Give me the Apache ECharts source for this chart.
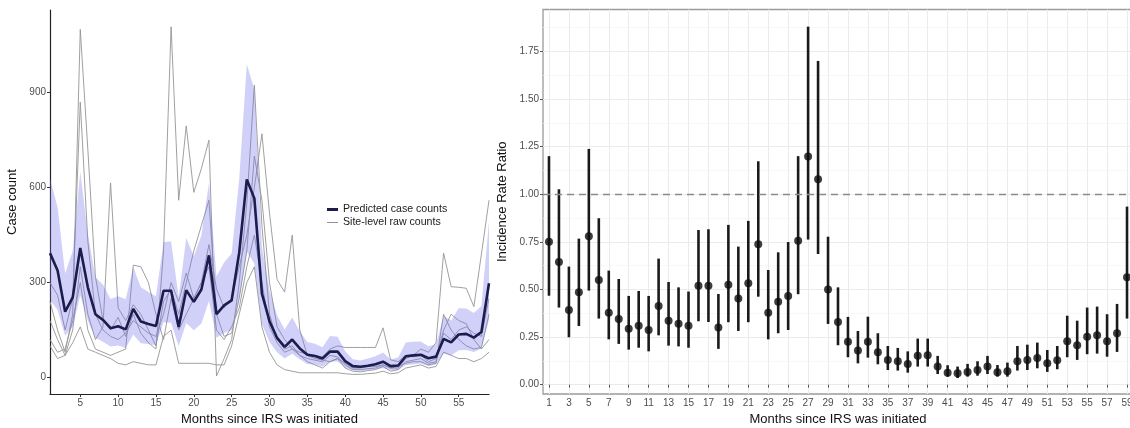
<!DOCTYPE html>
<html><head><meta charset="utf-8">
<script src="https://cdn.jsdelivr.net/npm/echarts@6/dist/echarts.min.js"></script>
<style>html,body{margin:0;padding:0;background:#fff}#c{width:1130px;height:428px}</style>
</head><body><div id="c"></div>
<script>
const months = [1,2,3,4,5,6,7,8,9,10,11,12,13,14,15,16,17,18,19,20,21,22,23,24,25,26,27,28,29,30,31,32,33,34,35,36,37,38,39,40,41,42,43,44,45,46,47,48,49,50,51,52,53,54,55,56,57,58,59];
const predicted = [393,338,208,253,409,285,200,182,156,162,152,217,177,169,163,274,274,160,276,239,278,386,200,228,244,395,626,566,265,178,125,97,120,92,72,68,60,82,82,52,36,34,37,42,50,36,38,67,70,72,61,66,122,111,136,138,126,144,298];
const ribbonLower = [245,213,132,161,259,180,126,113,98,101,93,136,108,106,102,175,173,100,172,149,171,242,126,141,150,248,398,360,169,112,80,60,75,58,43,41,35,51,51,31,24,20,23,26,29,23,23,40,41,44,36,42,77,70,86,87,81,92,183];
const ribbonUpper = [629,538,329,400,650,453,317,293,248,257,247,348,285,270,257,428,430,254,441,383,449,614,319,363,392,627,990,910,412,276,197,152,190,146,112,107,96,131,129,83,58,54,60,67,79,57,63,111,113,114,99,105,194,180,219,218,204,226,494];
const site1 = [240,150,80,200,1100,720,320,180,150,190,130,200,140,110,90,400,1108,560,795,585,660,750,5,60,120,300,550,924,480,200,120,90,100,70,50,40,30,50,60,30,20,18,22,25,35,20,25,50,55,60,45,50,140,120,150,160,140,130,250];
const site2 = [300,260,150,250,870,430,200,150,130,120,140,180,160,140,130,200,300,240,330,250,300,420,280,220,250,350,450,600,770,520,310,270,450,150,70,60,55,50,60,45,30,30,35,35,40,30,35,45,50,50,40,45,200,150,120,100,90,95,200];
const site3 = [180,120,70,150,350,200,120,160,615,220,180,230,200,150,100,240,280,200,300,400,480,560,200,130,140,250,400,700,560,300,160,120,90,70,60,55,50,70,65,40,25,25,28,30,40,30,30,60,70,90,80,110,393,287,285,282,224,390,560];
const site4 = [120,80,90,180,300,150,90,80,70,80,90,355,350,300,200,120,250,150,200,250,300,350,150,120,160,220,350,450,300,160,110,80,90,80,75,70,65,90,100,95,95,95,95,95,157,56,50,70,65,70,50,60,150,200,180,170,120,90,120];
const site5 = [100,60,70,110,160,90,80,70,60,45,40,50,45,40,40,130,150,45,45,45,45,45,40,40,100,200,300,350,160,80,40,25,20,15,15,15,15,15,15,12,10,10,12,14,20,12,15,30,35,40,30,35,80,70,60,60,50,60,80];
const irr = [0.75,0.644,0.392,0.485,0.779,0.55,0.378,0.345,0.293,0.31,0.287,0.413,0.335,0.32,0.31,0.52,0.52,0.30,0.525,0.452,0.532,0.737,0.378,0.436,0.466,0.756,1.198,1.079,0.50,0.329,0.226,0.18,0.226,0.17,0.13,0.123,0.109,0.152,0.154,0.095,0.063,0.06,0.067,0.077,0.095,0.065,0.07,0.123,0.13,0.14,0.112,0.128,0.228,0.207,0.252,0.259,0.228,0.27,0.564];
const irrLower = [0.467,0.405,0.249,0.308,0.494,0.347,0.238,0.214,0.184,0.194,0.175,0.259,0.205,0.201,0.194,0.333,0.329,0.188,0.328,0.282,0.328,0.462,0.238,0.27,0.287,0.475,0.762,0.686,0.319,0.207,0.144,0.112,0.142,0.107,0.077,0.074,0.063,0.095,0.095,0.056,0.042,0.035,0.042,0.047,0.056,0.042,0.042,0.074,0.077,0.086,0.067,0.081,0.144,0.13,0.16,0.163,0.147,0.172,0.347];
const irrUpper = [1.20,1.026,0.62,0.767,1.238,0.874,0.599,0.555,0.466,0.492,0.466,0.662,0.539,0.511,0.489,0.812,0.816,0.476,0.839,0.725,0.86,1.173,0.602,0.695,0.749,1.20,1.88,1.70,0.777,0.511,0.356,0.282,0.357,0.27,0.203,0.193,0.175,0.242,0.242,0.151,0.102,0.095,0.109,0.123,0.151,0.103,0.116,0.203,0.21,0.221,0.182,0.203,0.362,0.336,0.405,0.41,0.37,0.424,0.935];
const leftXTicks = [5,10,15,20,25,30,35,40,45,50,55];
const leftYTicks = [0,300,600,900];
const rightXTicks = [1,3,5,7,9,11,13,15,17,19,21,23,25,27,29,31,33,35,37,39,41,43,45,47,49,51,53,55,57,59];
const rightYTicks = [0,0.25,0.5,0.75,1,1.25,1.5,1.75];
const rightYMinor = [0.125,0.375,0.625,0.875,1.125,1.375,1.625,1.875];
const refLine = 1;

const FONT = 'Liberation Sans, Arial, Helvetica, sans-serif';
const chart = echarts.init(document.getElementById('c'), null, {renderer:'canvas'});
const pair = arr => months.map((m,i)=>[m, arr[i]]);
const siteColor = '#959595';
const sites = [site1, site2, site3, site4, site5];
const siteSeries = sites.map(s => ({
  type:'line', name:'Site-level raw counts', xAxisIndex:0, yAxisIndex:0,
  data: pair(s), symbol:'none', silent:true, z:1,
  itemStyle:{color:siteColor}, lineStyle:{color:siteColor, width:0.9}
}));

const option = {
  animation:false,
  textStyle:{fontFamily:FONT},
  grid:[
    {left:50, top:10, width:439, height:384, containLabel:false, outerBoundsMode:'none'},
    {left:543, top:9.5, width:590, height:384.5, containLabel:false, outerBoundsMode:'none',
     show:true, borderColor:'#9a9a9a', borderWidth:1.3, backgroundColor:'transparent'}
  ],
  legend:[
    {data:['Predicted case counts'], left:322, top:199, icon:'rect', itemWidth:11, itemHeight:3, itemGap:5,
     textStyle:{fontFamily:FONT, fontSize:10.6, color:'#1a1a1a'}, selectedMode:false},
    {data:['Site-level raw counts'], left:322, top:212, icon:'rect', itemWidth:11, itemHeight:1, itemGap:5,
     textStyle:{fontFamily:FONT, fontSize:10.6, color:'#1a1a1a'}, selectedMode:false}
  ],
  xAxis:[
    {gridIndex:0, type:'value', min:1, max:59,
     axisLine:{show:true, onZero:false, lineStyle:{color:'#222', width:1.2}},
     axisTick:{show:true, length:3, customValues:leftXTicks, lineStyle:{color:'#333'}},
     axisLabel:{customValues:leftXTicks, color:'#4d4d4d', fontSize:10, margin:4, fontFamily:FONT},
     splitLine:{show:false},
     name:'Months since IRS was initiated', nameLocation:'middle', nameGap:18,
     nameTextStyle:{fontSize:13, color:'#111', fontFamily:FONT}},
    {gridIndex:1, type:'value', min:0.4, max:59.6,
     axisLine:{show:false},
     axisTick:{show:true, length:3, customValues:rightXTicks, lineStyle:{color:'#555'}},
     axisLabel:{customValues:rightXTicks, color:'#4d4d4d', fontSize:10, margin:4, fontFamily:FONT},
     splitLine:{show:true, lineStyle:{color:'#ebebeb', width:1}},
     name:'Months since IRS was initiated', nameLocation:'middle', nameGap:18,
     nameTextStyle:{fontSize:13, color:'#111', fontFamily:FONT}}
  ],
  yAxis:[
    {gridIndex:0, type:'value', min:-52, max:1161,
     axisLine:{show:true, onZero:false, lineStyle:{color:'#222', width:1.2}},
     axisTick:{show:true, length:3, customValues:leftYTicks, lineStyle:{color:'#333'}},
     axisLabel:{customValues:leftYTicks, color:'#4d4d4d', fontSize:10, margin:4, fontFamily:FONT},
     splitLine:{show:false},
     name:'Case count', nameLocation:'middle', nameGap:31,
     nameTextStyle:{fontSize:13, color:'#111', fontFamily:FONT}},
    {gridIndex:1, type:'value', min:-0.049, max:1.97,
     axisLine:{show:false},
     axisTick:{show:true, length:3, customValues:rightYTicks, lineStyle:{color:'#555'}},
     axisLabel:{customValues:rightYTicks, color:'#4d4d4d', fontSize:10, margin:4, fontFamily:FONT,
                formatter:v=>Number(v).toFixed(2)},
     splitLine:{show:true, lineStyle:{color:'#ebebeb', width:1}},
     name:'Incidence Rate Ratio', nameLocation:'middle', nameGap:34,
     nameTextStyle:{fontSize:13, color:'#111', fontFamily:FONT}},
    {gridIndex:1, type:'value', min:-0.049, max:1.97, position:'left',
     axisLine:{show:false},
     axisTick:{show:false, customValues:rightYMinor},
     axisLabel:{show:false, customValues:rightYMinor},
     splitLine:{show:true, lineStyle:{color:'#f5f5f5', width:0.7}}}
  ],
  series:[
    ...siteSeries,
    {type:'custom', name:'ribbon', xAxisIndex:0, yAxisIndex:0, silent:true, z:2,
     data:[[months[0], ribbonLower[0]]],
     renderItem:function(params, api){
       if (params.dataIndex !== 0) return;
       const pts = [];
       for (let i=0;i<months.length;i++) pts.push(api.coord([months[i], ribbonUpper[i]]));
       for (let i=months.length-1;i>=0;i--) pts.push(api.coord([months[i], ribbonLower[i]]));
       return {type:'polygon', shape:{points:pts}, style:{fill:'rgba(110,110,235,0.32)'}};
     }},
    {type:'line', name:'Predicted case counts', xAxisIndex:0, yAxisIndex:0, data:pair(predicted),
     symbol:'none', z:3, silent:true,
     itemStyle:{color:'#1c1c4e'}, lineStyle:{color:'#1c1c4e', width:2.6}},
    {type:'custom', name:'ci', xAxisIndex:1, yAxisIndex:1, silent:true, z:3,
     data: months.map((m,i)=>[m, irrLower[i], irrUpper[i]]),
     encode:{x:0, y:[1,2]},
     renderItem:function(params, api){
       const p1 = api.coord([api.value(0), api.value(1)]);
       const p2 = api.coord([api.value(0), api.value(2)]);
       return {type:'line', shape:{x1:p1[0], y1:p1[1], x2:p2[0], y2:p2[1]},
               style:{stroke:'#1a1a1a', lineWidth:2.6}};
     }},
    {type:'scatter', name:'irr', xAxisIndex:1, yAxisIndex:1, data:pair(irr), z:4, silent:true,
     symbol:'circle', symbolSize:8, itemStyle:{color:'#0d0d0d'},
     markLine:{symbol:'none', silent:true, label:{show:false},
       lineStyle:{type:[7,5], color:'#8a8a8a', width:1.3},
       data:[{yAxis:refLine}]}}
  ]
};
chart.setOption(option);
</script></body></html>
